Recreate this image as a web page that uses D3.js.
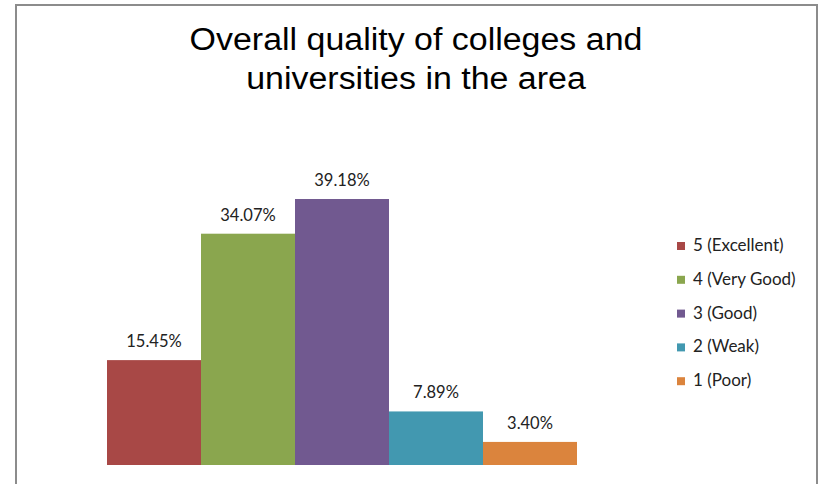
<!DOCTYPE html>
<html><head><meta charset="utf-8">
<script src="https://cdn.jsdelivr.net/npm/d3@7/dist/d3.min.js"></script>
<style>body{margin:0;background:#fff;}svg{display:block;}</style>
</head><body>
<svg id="c" width="821" height="484"></svg>
<script>
const categories = ["5 (Excellent)", "4 (Very Good)", "3 (Good)", "2 (Weak)", "1 (Poor)"];
const values = [15.45, 34.07, 39.18, 7.89, 3.40];
const valueLabels = ["15.45%", "34.07%", "39.18%", "7.89%", "3.40%"];
const colors = ["#a84846", "#8aa64e", "#715990", "#4298b0", "#db843d"];
const titleLines = ["Overall quality of colleges and", "universities in the area"];

const svg = d3.select("#c");
// frame
svg.append("path").attr("d", "M16,484 V5 H817 V484").attr("fill", "none")
  .attr("stroke", "#8c8c8c").attr("stroke-width", 2);

// title
svg.append("g").attr("transform", "translate(416,0) scale(1.095,1)")
  .append("text").attr("x", 0).attr("y", 50).attr("text-anchor", "middle")
  .attr("font-family", "Liberation Sans, Arial, sans-serif").attr("font-size", 31).attr("fill", "#000")
  .selectAll("tspan").data(titleLines).join("tspan")
  .attr("x", 0).attr("dy", (d, i) => i === 0 ? 0 : 39).text(d => d);

const x = d3.scaleBand().domain(categories).range([107, 577]).padding(0);
const y = d3.scaleLinear().domain([0, 45]).range([465, 159.5]);

svg.append("g").selectAll("rect").data(values).join("rect")
  .attr("x", (d, i) => x(categories[i]))
  .attr("y", d => y(d))
  .attr("width", x.bandwidth())
  .attr("height", d => y(0) - y(d))
  .attr("fill", (d, i) => colors[i]);

svg.append("g").selectAll("text").data(values).join("text")
  .attr("x", (d, i) => x(categories[i]) + x.bandwidth() / 2)
  .attr("y", d => y(d) - 13)
  .attr("text-anchor", "middle")
  .attr("font-family", "Lato, Carlito, sans-serif").attr("font-size", 16.5).attr("fill", "#222")
  .text((d, i) => valueLabels[i]);

// legend
const lg = svg.append("g");
const rows = lg.selectAll("g").data(categories).join("g")
  .attr("transform", (d, i) => `translate(677, ${251 + i * 33.8})`);
rows.append("rect").attr("x", 0).attr("y", -9).attr("width", 8).attr("height", 8)
  .attr("fill", (d, i) => colors[i]);
rows.append("text").attr("x", 16).attr("y", 0)
  .attr("font-family", "Lato, Carlito, sans-serif").attr("font-size", 17).attr("fill", "#222")
  .text(d => d);
</script>
</body></html>
